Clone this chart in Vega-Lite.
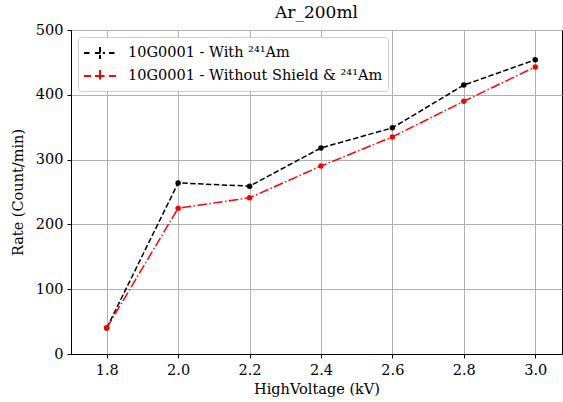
{
  "$schema": "https://vega.github.io/schema/vega-lite/v6.json",
  "width": 491,
  "height": 324,
  "autosize": {"type": "none"},
  "padding": {"left": 71, "top": 30, "right": 1, "bottom": 48},
  "title": {"text": "Ar_200ml", "font": "DejaVu Serif", "fontSize": 17, "fontWeight": "normal", "color": "black", "offset": 0},
  "config": {
    "font": "DejaVu Serif",
    "view": {"stroke": "black", "strokeWidth": 1}
  },
  "data": {"values": [
    {"hv": 1.8, "rate": 40, "s": "10G0001 - With ²⁴¹Am"},
    {"hv": 2.0, "rate": 264, "s": "10G0001 - With ²⁴¹Am"},
    {"hv": 2.2, "rate": 259, "s": "10G0001 - With ²⁴¹Am"},
    {"hv": 2.4, "rate": 318, "s": "10G0001 - With ²⁴¹Am"},
    {"hv": 2.6, "rate": 349, "s": "10G0001 - With ²⁴¹Am"},
    {"hv": 2.8, "rate": 415, "s": "10G0001 - With ²⁴¹Am"},
    {"hv": 3.0, "rate": 454, "s": "10G0001 - With ²⁴¹Am"},
    {"hv": 1.8, "rate": 40, "s": "10G0001 - Without Shield & ²⁴¹Am"},
    {"hv": 2.0, "rate": 225, "s": "10G0001 - Without Shield & ²⁴¹Am"},
    {"hv": 2.2, "rate": 241, "s": "10G0001 - Without Shield & ²⁴¹Am"},
    {"hv": 2.4, "rate": 290, "s": "10G0001 - Without Shield & ²⁴¹Am"},
    {"hv": 2.6, "rate": 335, "s": "10G0001 - Without Shield & ²⁴¹Am"},
    {"hv": 2.8, "rate": 390, "s": "10G0001 - Without Shield & ²⁴¹Am"},
    {"hv": 3.0, "rate": 443, "s": "10G0001 - Without Shield & ²⁴¹Am"}
  ]},
  "encoding": {
    "x": {"field": "hv", "type": "quantitative", "title": "HighVoltage (kV)",
      "scale": {"domain": [1.7, 3.075], "nice": false, "zero": false},
      "axis": {"values": [1.8, 2.0, 2.2, 2.4, 2.6, 2.8, 3.0], "format": ".1f", "titlePadding": 6,
        "labelFont": "DejaVu Serif", "titleFont": "DejaVu Serif", "labelFontSize": 14.5, "titleFontSize": 14.5, "titleFontWeight": "normal",
        "labelColor": "black", "titleColor": "black", "domainColor": "black", "tickColor": "black", "tickSize": 4, "labelPadding": 5,
        "gridColor": "#b0b0b0", "gridOpacity": 1}},
    "y": {"field": "rate", "type": "quantitative", "title": "Rate (Count/min)",
      "scale": {"domain": [0, 500], "nice": false},
      "axis": {"values": [0, 100, 200, 300, 400, 500], "titlePadding": 10,
        "labelFont": "DejaVu Serif", "titleFont": "DejaVu Serif", "labelFontSize": 14.5, "titleFontSize": 14.5, "titleFontWeight": "normal",
        "labelColor": "black", "titleColor": "black", "domainColor": "black", "tickColor": "black", "tickSize": 4, "labelPadding": 4,
        "gridColor": "#b0b0b0", "gridOpacity": 1}},
    "color": {"field": "s", "type": "nominal",
      "scale": {"domain": ["10G0001 - With ²⁴¹Am", "10G0001 - Without Shield & ²⁴¹Am"], "range": ["black", "red"]},
      "legend": {
        "title": null, "orient": "top-left", "offset": 7,
        "fillColor": "white", "strokeColor": "#cccccc", "cornerRadius": 3, "padding": 5,
        "labelFont": "DejaVu Serif", "labelFontSize": 14.5, "labelColor": "black", "labelLimit": 500,
        "symbolType": "M-1.6,0H-0.9M-0.5,0H0.5M0.9,0H1.6M0,-0.6V0.6",
        "symbolSize": 400, "symbolStrokeWidth": 2, "symbolFillColor": "transparent", "symbolOffset": 6, "rowPadding": 2, "labelOffset": 17
      }}
  },
  "layer": [
    {"mark": {"type": "line", "strokeWidth": 1.5},
     "encoding": {"strokeDash": {"field": "s", "type": "nominal",
       "scale": {"domain": ["10G0001 - With ²⁴¹Am", "10G0001 - Without Shield & ²⁴¹Am"], "range": [[5.5, 2.4], [9.6, 2.4, 1.5, 2.4]]},
       "legend": null}}},
    {"mark": {"type": "circle", "size": 30, "opacity": 1}}
  ]
}
